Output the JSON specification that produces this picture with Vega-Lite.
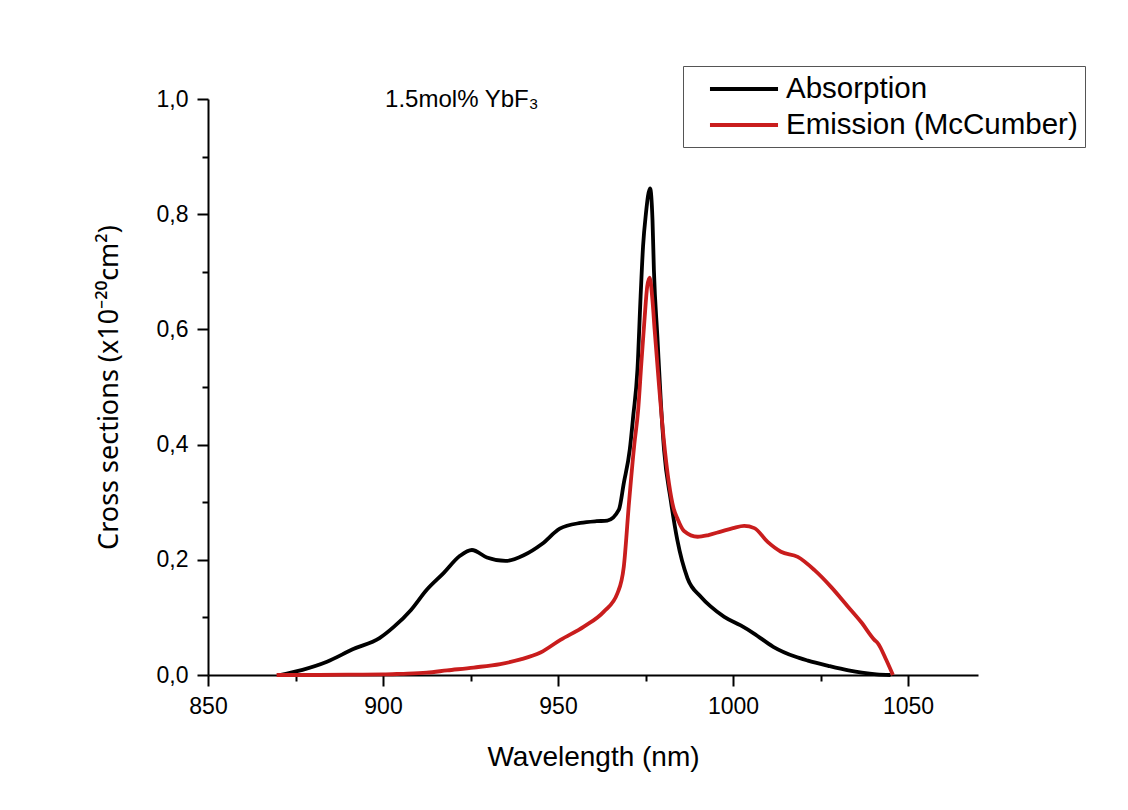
{
  "$schema": "https://vega.github.io/schema/vega-lite/v6.json",
  "width": 770,
  "height": 576,
  "autosize": "none",
  "padding": {"left": 208, "top": 99, "right": 150, "bottom": 135},
  "background": "white",
  "config": {"view": {"stroke": null}, "font": "Liberation Sans"},
  "resolve": {"axis": {"x": "independent", "y": "independent"}},
  "datasets": {
    "spectra": [
      {"series": "Absorption", "wavelength": 870.5, "cs": 0},
      {"series": "Absorption", "wavelength": 877, "cs": 0.009},
      {"series": "Absorption", "wavelength": 884, "cs": 0.023},
      {"series": "Absorption", "wavelength": 891.5, "cs": 0.045},
      {"series": "Absorption", "wavelength": 899, "cs": 0.064},
      {"series": "Absorption", "wavelength": 903, "cs": 0.083},
      {"series": "Absorption", "wavelength": 908, "cs": 0.113},
      {"series": "Absorption", "wavelength": 912.5, "cs": 0.148},
      {"series": "Absorption", "wavelength": 917.3, "cs": 0.177},
      {"series": "Absorption", "wavelength": 922, "cs": 0.207},
      {"series": "Absorption", "wavelength": 925.4, "cs": 0.217},
      {"series": "Absorption", "wavelength": 929.7, "cs": 0.204},
      {"series": "Absorption", "wavelength": 935, "cs": 0.198},
      {"series": "Absorption", "wavelength": 940.2, "cs": 0.208},
      {"series": "Absorption", "wavelength": 945.5, "cs": 0.228},
      {"series": "Absorption", "wavelength": 950.5, "cs": 0.254},
      {"series": "Absorption", "wavelength": 956.4, "cs": 0.264},
      {"series": "Absorption", "wavelength": 961, "cs": 0.267},
      {"series": "Absorption", "wavelength": 964.1, "cs": 0.268},
      {"series": "Absorption", "wavelength": 967.4, "cs": 0.287},
      {"series": "Absorption", "wavelength": 968.8, "cs": 0.333},
      {"series": "Absorption", "wavelength": 970.5, "cs": 0.391},
      {"series": "Absorption", "wavelength": 971.5, "cs": 0.45},
      {"series": "Absorption", "wavelength": 972.7, "cs": 0.53},
      {"series": "Absorption", "wavelength": 973.6, "cs": 0.657},
      {"series": "Absorption", "wavelength": 974.3, "cs": 0.744},
      {"series": "Absorption", "wavelength": 975.1, "cs": 0.80},
      {"series": "Absorption", "wavelength": 976.3, "cs": 0.845},
      {"series": "Absorption", "wavelength": 977, "cs": 0.79},
      {"series": "Absorption", "wavelength": 977.4, "cs": 0.703},
      {"series": "Absorption", "wavelength": 978.4, "cs": 0.587},
      {"series": "Absorption", "wavelength": 979.4, "cs": 0.472},
      {"series": "Absorption", "wavelength": 980.3, "cs": 0.391},
      {"series": "Absorption", "wavelength": 982.2, "cs": 0.304},
      {"series": "Absorption", "wavelength": 984.1, "cs": 0.234},
      {"series": "Absorption", "wavelength": 987, "cs": 0.168},
      {"series": "Absorption", "wavelength": 990.8, "cs": 0.136},
      {"series": "Absorption", "wavelength": 993.6, "cs": 0.119},
      {"series": "Absorption", "wavelength": 997.5, "cs": 0.101},
      {"series": "Absorption", "wavelength": 1002.2, "cs": 0.086},
      {"series": "Absorption", "wavelength": 1006, "cs": 0.072},
      {"series": "Absorption", "wavelength": 1011.5, "cs": 0.049},
      {"series": "Absorption", "wavelength": 1017.7, "cs": 0.032},
      {"series": "Absorption", "wavelength": 1021.4, "cs": 0.025},
      {"series": "Absorption", "wavelength": 1027.2, "cs": 0.016},
      {"series": "Absorption", "wavelength": 1033, "cs": 0.008},
      {"series": "Absorption", "wavelength": 1036.8, "cs": 0.004},
      {"series": "Absorption", "wavelength": 1041, "cs": 0.001},
      {"series": "Absorption", "wavelength": 1045, "cs": 0},
      {"series": "Emission (McCumber)", "wavelength": 869.6, "cs": 0},
      {"series": "Emission (McCumber)", "wavelength": 880, "cs": 0},
      {"series": "Emission (McCumber)", "wavelength": 890, "cs": 0.0005},
      {"series": "Emission (McCumber)", "wavelength": 900, "cs": 0.001},
      {"series": "Emission (McCumber)", "wavelength": 905, "cs": 0.002},
      {"series": "Emission (McCumber)", "wavelength": 912.5, "cs": 0.004},
      {"series": "Emission (McCumber)", "wavelength": 918.3, "cs": 0.008},
      {"series": "Emission (McCumber)", "wavelength": 925.9, "cs": 0.013},
      {"series": "Emission (McCumber)", "wavelength": 933.5, "cs": 0.019},
      {"series": "Emission (McCumber)", "wavelength": 939.3, "cs": 0.027},
      {"series": "Emission (McCumber)", "wavelength": 945, "cs": 0.039},
      {"series": "Emission (McCumber)", "wavelength": 950.7, "cs": 0.061},
      {"series": "Emission (McCumber)", "wavelength": 957.4, "cs": 0.084},
      {"series": "Emission (McCumber)", "wavelength": 963.1, "cs": 0.110},
      {"series": "Emission (McCumber)", "wavelength": 967, "cs": 0.142},
      {"series": "Emission (McCumber)", "wavelength": 968.8, "cs": 0.188},
      {"series": "Emission (McCumber)", "wavelength": 970.3, "cs": 0.30},
      {"series": "Emission (McCumber)", "wavelength": 971.8, "cs": 0.40},
      {"series": "Emission (McCumber)", "wavelength": 972.9, "cs": 0.46},
      {"series": "Emission (McCumber)", "wavelength": 973.8, "cs": 0.54},
      {"series": "Emission (McCumber)", "wavelength": 974.7, "cs": 0.616},
      {"series": "Emission (McCumber)", "wavelength": 975.5, "cs": 0.675},
      {"series": "Emission (McCumber)", "wavelength": 976.2, "cs": 0.69},
      {"series": "Emission (McCumber)", "wavelength": 977, "cs": 0.65},
      {"series": "Emission (McCumber)", "wavelength": 977.6, "cs": 0.60},
      {"series": "Emission (McCumber)", "wavelength": 978.9, "cs": 0.50},
      {"series": "Emission (McCumber)", "wavelength": 980.2, "cs": 0.41},
      {"series": "Emission (McCumber)", "wavelength": 981.7, "cs": 0.333},
      {"series": "Emission (McCumber)", "wavelength": 983, "cs": 0.29},
      {"series": "Emission (McCumber)", "wavelength": 984.1, "cs": 0.272},
      {"series": "Emission (McCumber)", "wavelength": 986, "cs": 0.25},
      {"series": "Emission (McCumber)", "wavelength": 989.9, "cs": 0.240},
      {"series": "Emission (McCumber)", "wavelength": 993, "cs": 0.243},
      {"series": "Emission (McCumber)", "wavelength": 996.5, "cs": 0.249},
      {"series": "Emission (McCumber)", "wavelength": 1000, "cs": 0.255},
      {"series": "Emission (McCumber)", "wavelength": 1003.2, "cs": 0.259},
      {"series": "Emission (McCumber)", "wavelength": 1006.1, "cs": 0.255},
      {"series": "Emission (McCumber)", "wavelength": 1009.9, "cs": 0.231},
      {"series": "Emission (McCumber)", "wavelength": 1013.7, "cs": 0.214},
      {"series": "Emission (McCumber)", "wavelength": 1018.5, "cs": 0.205},
      {"series": "Emission (McCumber)", "wavelength": 1023.3, "cs": 0.182},
      {"series": "Emission (McCumber)", "wavelength": 1028, "cs": 0.153},
      {"series": "Emission (McCumber)", "wavelength": 1032.8, "cs": 0.119},
      {"series": "Emission (McCumber)", "wavelength": 1036.6, "cs": 0.092},
      {"series": "Emission (McCumber)", "wavelength": 1040.4, "cs": 0.061},
      {"series": "Emission (McCumber)", "wavelength": 1041.4, "cs": 0.055},
      {"series": "Emission (McCumber)", "wavelength": 1043.8, "cs": 0.026},
      {"series": "Emission (McCumber)", "wavelength": 1045.7, "cs": 0}
    ]
  },
  "layer": [
    {
      "data": {"name": "spectra"},
      "mark": {"type": "line", "strokeWidth": 3.8, "interpolate": "monotone"},
      "encoding": {
        "x": {
          "field": "wavelength",
          "type": "quantitative",
          "scale": {"domain": [850, 1070], "nice": false, "zero": false},
          "axis": {
            "orient": "bottom",
            "title": "Wavelength (nm)",
            "values": [850, 900, 950, 1000, 1050],
            "format": "d",
            "tickSize": 11,
            "grid": false,
            "domainColor": "black",
            "domainWidth": 2,
            "tickColor": "black",
            "tickWidth": 2,
            "labelFontSize": 23,
            "labelColor": "black",
            "labelPadding": 9,
            "labelFlush": false,
            "labelOverlap": false,
            "titleFontSize": 28,
            "titleFontWeight": "normal",
            "titleColor": "black",
            "titlePadding": 25
          }
        },
        "y": {
          "field": "cs",
          "type": "quantitative",
          "scale": {"domain": [0, 1], "nice": false},
          "axis": {
            "orient": "left",
            "title": "Cross sections (x10⁻²⁰cm²)",
            "titleFont": "Noto Sans",
            "values": [0, 0.2, 0.4, 0.6, 0.8, 1.0],
            "labelExpr": "replace(format(datum.value, '.1f'), '.', ',')",
            "tickSize": 11,
            "grid": false,
            "domainColor": "black",
            "domainWidth": 2,
            "tickColor": "black",
            "tickWidth": 2,
            "labelFontSize": 23,
            "labelColor": "black",
            "labelPadding": 9,
            "labelFlush": false,
            "labelOverlap": false,
            "titleFontSize": 27,
            "titleFontWeight": "normal",
            "titleColor": "black",
            "titlePadding": 33
          }
        },
        "color": {
          "field": "series",
          "type": "nominal",
          "scale": {"domain": ["Absorption", "Emission (McCumber)"], "range": ["#000000", "#c91d1d"]},
          "legend": {
            "orient": "none",
            "legendX": 475,
            "legendY": -33,
            "title": null,
            "symbolType": "M-2.43,0H2.43",
            "symbolSize": 784,
            "symbolStrokeWidth": 4,
            "symbolFillColor": "transparent",
            "labelFontSize": 29.5,
            "labelColor": "black",
            "labelOffset": 26,
            "labelLimit": 500,
            "labelExpr": "datum.label + '\u00a0'",
            "strokeColor": "#555555",
            "fillColor": "white",
            "padding": 7,
            "symbolOffset": 38,
            "rowPadding": 5
          }
        }
      }
    },
    {
      "data": {"name": "spectra"},
      "mark": {"type": "line", "opacity": 0},
      "encoding": {
        "x": {
          "field": "wavelength",
          "type": "quantitative",
          "scale": {"domain": [850, 1070], "nice": false, "zero": false},
          "axis": {
            "orient": "bottom",
            "title": null,
            "values": [875, 925, 975, 1025],
            "labels": false,
            "domain": false,
            "grid": false,
            "tickSize": 6,
            "tickWidth": 2,
            "tickColor": "black"
          }
        },
        "y": {
          "field": "cs",
          "type": "quantitative",
          "scale": {"domain": [0, 1], "nice": false},
          "axis": {
            "orient": "left",
            "title": null,
            "values": [0.1, 0.3, 0.5, 0.7, 0.9],
            "labels": false,
            "domain": false,
            "grid": false,
            "tickSize": 6,
            "tickWidth": 2,
            "tickColor": "black"
          }
        }
      }
    },
    {
      "data": {"values": [{}]},
      "mark": {"type": "text", "fontSize": 24, "align": "left", "baseline": "alphabetic", "color": "black"},
      "encoding": {
        "x": {"datum": 900.6, "axis": null},
        "y": {"datum": 0.986, "axis": null},
        "text": {"value": "1.5mol% YbF₃"}
      }
    }
  ]
}
